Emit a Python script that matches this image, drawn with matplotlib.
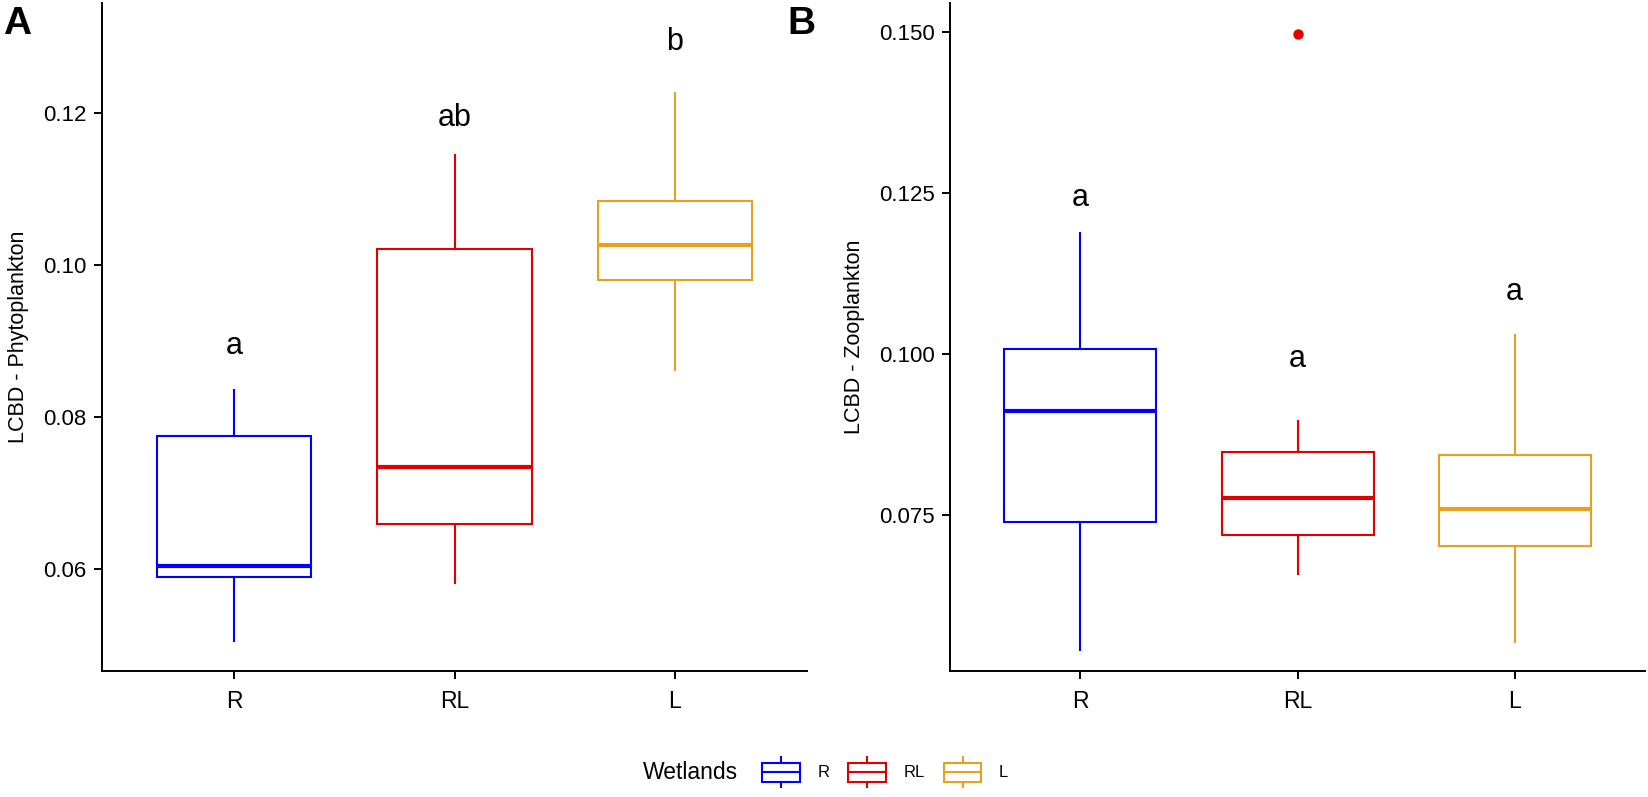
import numpy as np
import matplotlib
matplotlib.use("Agg")
import matplotlib.pyplot as plt
from matplotlib.legend_handler import HandlerBase
from matplotlib.patches import Rectangle
from matplotlib.lines import Line2D

plt.rcParams["font.family"] = ["Liberation Sans", "DejaVu Sans"]

WETLANDS = ["R", "RL", "L"]
COLORS = ["#0000FF", "#E00000", "#E8A020"]

# Panel A: LCBD - Phytoplankton (box stats)
PHYTO_WHISLO = [0.0505, 0.0581, 0.0862]
PHYTO_Q1 = [0.0589, 0.0658, 0.0980]
PHYTO_MED = [0.0603, 0.0734, 0.1026]
PHYTO_Q3 = [0.0774, 0.1021, 0.1084]
PHYTO_WHISHI = [0.0835, 0.1145, 0.1226]
PHYTO_FLIERS = [[], [], []]
PHYTO_LETTERS = ["a", "ab", "b"]
PHYTO_LETTER_Y = [0.0893, 0.1194, 0.1294]

# Panel B: LCBD - Zooplankton
ZOO_WHISLO = [0.0541, 0.0658, 0.0553]
ZOO_Q1 = [0.0739, 0.0719, 0.0702]
ZOO_MED = [0.0912, 0.0777, 0.0759]
ZOO_Q3 = [0.1008, 0.0848, 0.0844]
ZOO_WHISHI = [0.1188, 0.0896, 0.1030]
ZOO_FLIERS = [[], [0.1497], []]
ZOO_LETTERS = ["a", "a", "a"]
ZOO_LETTER_Y = [0.1242, 0.0992, 0.1096]


class BoxKeyHandler(HandlerBase):
    def create_artists(self, legend, orig_handle, xdescent, ydescent,
                       width, height, fontsize, trans):
        color = orig_handle.get_color()
        x0, y0 = -xdescent, -ydescent
        bx0 = x0 + 0.02 * width
        bw = 0.96 * width
        by0 = y0 + 0.18 * height
        bh = 0.64 * height
        rect = Rectangle((bx0, by0), bw, bh, facecolor="white",
                         edgecolor=color, lw=1.5, transform=trans)
        med = Line2D([bx0, bx0 + bw], [by0 + bh / 2] * 2, color=color,
                     lw=1.5, transform=trans)
        xm = x0 + width / 2
        w1 = Line2D([xm, xm], [y0, by0], color=color, lw=1.5, transform=trans)
        w2 = Line2D([xm, xm], [by0 + bh, y0 + height], color=color, lw=1.5,
                    transform=trans)
        return [rect, med, w1, w2]


def draw_panel(ax, whislo, q1, med, q3, whishi, fliers, letters, letter_y,
               ylim, yticks, yticklabels, ylabel):
    stats = []
    for i in range(len(WETLANDS)):
        stats.append({
            "whislo": whislo[i], "q1": q1[i], "med": med[i],
            "q3": q3[i], "whishi": whishi[i], "fliers": fliers[i],
        })
    positions = np.arange(1, len(WETLANDS) + 1)
    bp = ax.bxp(stats, positions=positions, widths=0.70, showcaps=False,
                patch_artist=True, showfliers=True)
    for i, c in enumerate(COLORS):
        bp["boxes"][i].set(facecolor="white", edgecolor=c, linewidth=1.5)
        bp["medians"][i].set(color=c, linewidth=3.0, solid_capstyle="butt")
        for w in bp["whiskers"][2 * i:2 * i + 2]:
            w.set(color=c, linewidth=1.5)
        bp["fliers"][i].set(marker="o", markerfacecolor=c,
                            markeredgecolor=c, markersize=6.5)
    for x, lab, y in zip(positions, letters, letter_y):
        ax.text(x, y, lab, ha="center", va="center", fontsize=22)

    ax.set_xlim(0.4, 3.6)
    ax.set_ylim(*ylim)
    ax.set_xticks(positions)
    ax.set_xticklabels(WETLANDS)
    ax.set_yticks(yticks)
    ax.set_yticklabels(yticklabels)
    ax.set_ylabel(ylabel, fontsize=15.5, labelpad=10)
    for s in ["top", "right"]:
        ax.spines[s].set_visible(False)
    for s in ["left", "bottom"]:
        ax.spines[s].set_linewidth(1.4)
    ax.tick_params(axis="both", labelsize=16, length=6, width=1.4,
                   colors="black", pad=5)
    ax.tick_params(axis="x", labelsize=16.5, pad=8)


fig = plt.figure(figsize=(16.48, 7.97), dpi=100)
ax_a = fig.add_axes([0.0619, 0.1581, 0.4278, 0.8381])
ax_b = fig.add_axes([0.5765, 0.1581, 0.4217, 0.8381])

draw_panel(ax_a, PHYTO_WHISLO, PHYTO_Q1, PHYTO_MED, PHYTO_Q3, PHYTO_WHISHI,
           PHYTO_FLIERS, PHYTO_LETTERS, PHYTO_LETTER_Y,
           (0.0465, 0.1345), [0.06, 0.08, 0.10, 0.12],
           ["0.06", "0.08", "0.10", "0.12"], "LCBD - Phytoplankton")
draw_panel(ax_b, ZOO_WHISLO, ZOO_Q1, ZOO_MED, ZOO_Q3, ZOO_WHISHI,
           ZOO_FLIERS, ZOO_LETTERS, ZOO_LETTER_Y,
           (0.0508, 0.1545), [0.075, 0.100, 0.125, 0.150],
           ["0.075", "0.100", "0.125", "0.150"], "LCBD - Zooplankton")

fig.text(0.002, 0.992, "A", fontsize=28, fontweight="bold", va="top")
fig.text(0.478, 0.992, "B", fontsize=28, fontweight="bold", va="top")

handles = [Line2D([], [], color=c) for c in COLORS]
fig.text(0.390, 0.031, "Wetlands", fontsize=16.5, va="center", ha="left")
fig.legend(handles, WETLANDS, loc="center left",
           bbox_to_anchor=(0.457, 0.031), ncol=3, frameon=False,
           fontsize=12, handler_map={Line2D: BoxKeyHandler()},
           handlelength=2.35, handleheight=2.4, handletextpad=1.0,
           columnspacing=1.1, borderpad=0.0)

fig.savefig("out.png", dpi=100)
